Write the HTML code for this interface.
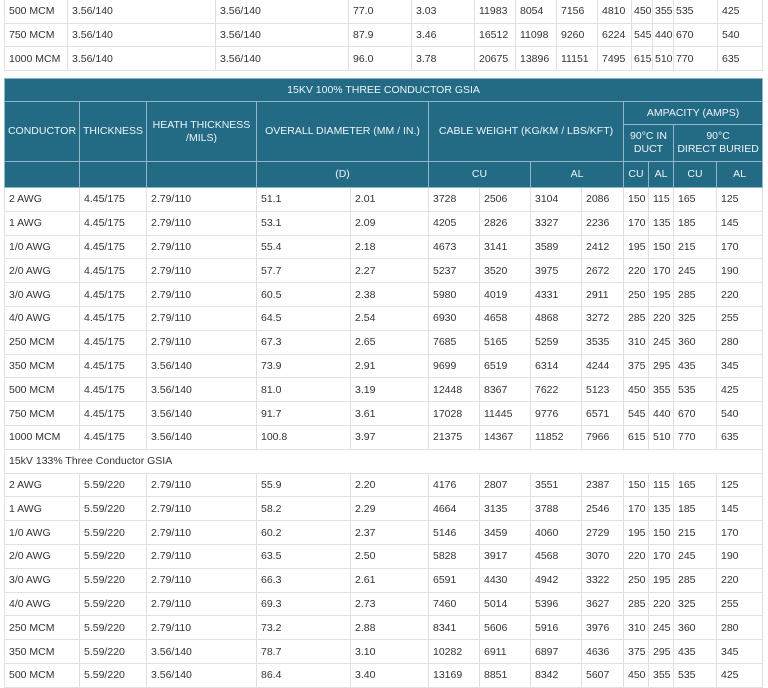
<!DOCTYPE html>
<html><head><meta charset="utf-8"><style>
body{margin:0;background:#fff;width:768px;height:688px;overflow:hidden;position:relative;font-family:"Liberation Sans",Arial,sans-serif;}
table{border-collapse:collapse;table-layout:fixed;position:absolute;left:4px;}
td{border:1px solid #e0e0e0;font-size:10.5px;color:#333;padding:0 0 0 4px;white-space:nowrap;overflow:visible;}
td.n{padding-left:2px;}
#top{top:-1px;}
#top tr{height:23.7px;}
#main{top:78px;}
#main tr.d{height:23.8px;}
th{background:#236a84;color:#eef5f8;font-weight:normal;font-size:10.5px;border:1px solid #8fb7c7;text-align:center;padding:0 2px;line-height:13px;}
</style></head><body>
<table id="top" style="width:758px">
<colgroup><col style="width:63px"><col style="width:148px"><col style="width:133px"><col style="width:63px"><col style="width:63px"><col style="width:41px"><col style="width:41px"><col style="width:41px"><col style="width:34px"><col style="width:21px"><col style="width:21px"><col style="width:44px"><col style="width:45px"></colgroup>
<tr><td>500 MCM</td><td>3.56/140</td><td>3.56/140</td><td>77.0</td><td>3.03</td><td>11983</td><td>8054</td><td>7156</td><td>4810</td><td class="n">450</td><td class="n">355</td><td class="n">535</td><td>425</td></tr>
<tr><td>750 MCM</td><td>3.56/140</td><td>3.56/140</td><td>87.9</td><td>3.46</td><td>16512</td><td>11098</td><td>9260</td><td>6224</td><td class="n">545</td><td class="n">440</td><td class="n">670</td><td>540</td></tr>
<tr><td>1000 MCM</td><td>3.56/140</td><td>3.56/140</td><td>96.0</td><td>3.78</td><td>20675</td><td>13896</td><td>11151</td><td>7495</td><td class="n">615</td><td class="n">510</td><td class="n">770</td><td>635</td></tr>
</table>
<table id="main" style="width:758px">
<colgroup><col style="width:75px"><col style="width:67px"><col style="width:110px"><col style="width:94px"><col style="width:78px"><col style="width:51px"><col style="width:51px"><col style="width:51px"><col style="width:42px"><col style="width:25px"><col style="width:25px"><col style="width:43px"><col style="width:46px"></colgroup>
<tr style="height:23px"><th colspan="13">15KV 100% THREE CONDUCTOR GSIA</th></tr>
<tr style="height:23px"><th rowspan="2">CONDUCTOR</th><th rowspan="2">THICKNESS</th><th rowspan="2">HEATH THICKNESS<br>/MILS)</th><th rowspan="2" colspan="2">OVERALL DIAMETER (MM / IN.)</th><th rowspan="2" colspan="4">CABLE WEIGHT (KG/KM / LBS/KFT)</th><th colspan="4">AMPACITY (AMPS)</th></tr>
<tr style="height:37px"><th colspan="2">90°C IN<br>DUCT</th><th colspan="2">90°C<br>DIRECT BURIED</th></tr>
<tr style="height:26px"><th></th><th></th><th></th><th colspan="2">(D)</th><th colspan="2">CU</th><th colspan="2">AL</th><th>CU</th><th>AL</th><th>CU</th><th>AL</th></tr>
<tr class="d"><td>2 AWG</td><td>4.45/175</td><td>2.79/110</td><td>51.1</td><td>2.01</td><td>3728</td><td>2506</td><td>3104</td><td>2086</td><td>150</td><td>115</td><td>165</td><td>125</td></tr>
<tr class="d"><td>1 AWG</td><td>4.45/175</td><td>2.79/110</td><td>53.1</td><td>2.09</td><td>4205</td><td>2826</td><td>3327</td><td>2236</td><td>170</td><td>135</td><td>185</td><td>145</td></tr>
<tr class="d"><td>1/0 AWG</td><td>4.45/175</td><td>2.79/110</td><td>55.4</td><td>2.18</td><td>4673</td><td>3141</td><td>3589</td><td>2412</td><td>195</td><td>150</td><td>215</td><td>170</td></tr>
<tr class="d"><td>2/0 AWG</td><td>4.45/175</td><td>2.79/110</td><td>57.7</td><td>2.27</td><td>5237</td><td>3520</td><td>3975</td><td>2672</td><td>220</td><td>170</td><td>245</td><td>190</td></tr>
<tr class="d"><td>3/0 AWG</td><td>4.45/175</td><td>2.79/110</td><td>60.5</td><td>2.38</td><td>5980</td><td>4019</td><td>4331</td><td>2911</td><td>250</td><td>195</td><td>285</td><td>220</td></tr>
<tr class="d"><td>4/0 AWG</td><td>4.45/175</td><td>2.79/110</td><td>64.5</td><td>2.54</td><td>6930</td><td>4658</td><td>4868</td><td>3272</td><td>285</td><td>220</td><td>325</td><td>255</td></tr>
<tr class="d"><td>250 MCM</td><td>4.45/175</td><td>2.79/110</td><td>67.3</td><td>2.65</td><td>7685</td><td>5165</td><td>5259</td><td>3535</td><td>310</td><td>245</td><td>360</td><td>280</td></tr>
<tr class="d"><td>350 MCM</td><td>4.45/175</td><td>3.56/140</td><td>73.9</td><td>2.91</td><td>9699</td><td>6519</td><td>6314</td><td>4244</td><td>375</td><td>295</td><td>435</td><td>345</td></tr>
<tr class="d"><td>500 MCM</td><td>4.45/175</td><td>3.56/140</td><td>81.0</td><td>3.19</td><td>12448</td><td>8367</td><td>7622</td><td>5123</td><td>450</td><td>355</td><td>535</td><td>425</td></tr>
<tr class="d"><td>750 MCM</td><td>4.45/175</td><td>3.56/140</td><td>91.7</td><td>3.61</td><td>17028</td><td>11445</td><td>9776</td><td>6571</td><td>545</td><td>440</td><td>670</td><td>540</td></tr>
<tr class="d"><td>1000 MCM</td><td>4.45/175</td><td>3.56/140</td><td>100.8</td><td>3.97</td><td>21375</td><td>14367</td><td>11852</td><td>7966</td><td>615</td><td>510</td><td>770</td><td>635</td></tr>
<tr class="d"><td colspan="13">15kV 133% Three Conductor GSIA</td></tr>
<tr class="d"><td>2 AWG</td><td>5.59/220</td><td>2.79/110</td><td>55.9</td><td>2.20</td><td>4176</td><td>2807</td><td>3551</td><td>2387</td><td>150</td><td>115</td><td>165</td><td>125</td></tr>
<tr class="d"><td>1 AWG</td><td>5.59/220</td><td>2.79/110</td><td>58.2</td><td>2.29</td><td>4664</td><td>3135</td><td>3788</td><td>2546</td><td>170</td><td>135</td><td>185</td><td>145</td></tr>
<tr class="d"><td>1/0 AWG</td><td>5.59/220</td><td>2.79/110</td><td>60.2</td><td>2.37</td><td>5146</td><td>3459</td><td>4060</td><td>2729</td><td>195</td><td>150</td><td>215</td><td>170</td></tr>
<tr class="d"><td>2/0 AWG</td><td>5.59/220</td><td>2.79/110</td><td>63.5</td><td>2.50</td><td>5828</td><td>3917</td><td>4568</td><td>3070</td><td>220</td><td>170</td><td>245</td><td>190</td></tr>
<tr class="d"><td>3/0 AWG</td><td>5.59/220</td><td>2.79/110</td><td>66.3</td><td>2.61</td><td>6591</td><td>4430</td><td>4942</td><td>3322</td><td>250</td><td>195</td><td>285</td><td>220</td></tr>
<tr class="d"><td>4/0 AWG</td><td>5.59/220</td><td>2.79/110</td><td>69.3</td><td>2.73</td><td>7460</td><td>5014</td><td>5396</td><td>3627</td><td>285</td><td>220</td><td>325</td><td>255</td></tr>
<tr class="d"><td>250 MCM</td><td>5.59/220</td><td>2.79/110</td><td>73.2</td><td>2.88</td><td>8341</td><td>5606</td><td>5916</td><td>3976</td><td>310</td><td>245</td><td>360</td><td>280</td></tr>
<tr class="d"><td>350 MCM</td><td>5.59/220</td><td>3.56/140</td><td>78.7</td><td>3.10</td><td>10282</td><td>6911</td><td>6897</td><td>4636</td><td>375</td><td>295</td><td>435</td><td>345</td></tr>
<tr class="d"><td>500 MCM</td><td>5.59/220</td><td>3.56/140</td><td>86.4</td><td>3.40</td><td>13169</td><td>8851</td><td>8342</td><td>5607</td><td>450</td><td>355</td><td>535</td><td>425</td></tr>
</table>
</body></html>
